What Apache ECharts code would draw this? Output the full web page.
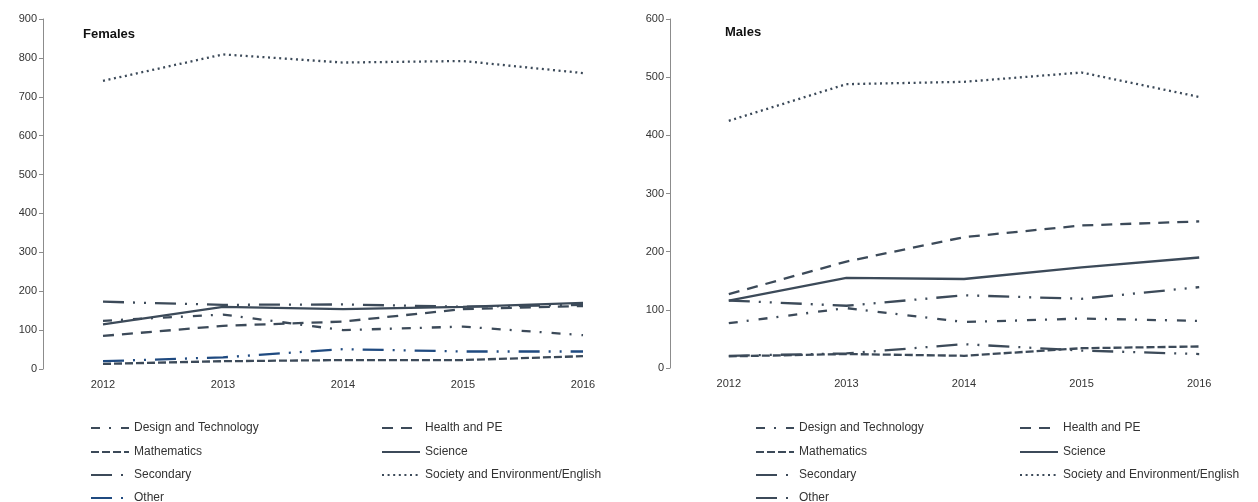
<!DOCTYPE html>
<html>
<head>
<meta charset="utf-8">
<script src="https://cdn.jsdelivr.net/npm/echarts@6/dist/echarts.min.js"></script>
<style>
  html, body { margin: 0; padding: 0; background: #fff; }
  #chart { width: 1258px; height: 502px; }
</style>
</head>
<body>
<div id="chart"></div>
<script>
// Years on the category axis
const years = ['2012', '2013', '2014', '2015', '2016'];

// Females
const fDesignTech = [124, 140, 100, 109, 87];
const fHealthPE   = [85, 111, 122, 154, 162];
const fMaths      = [13, 20, 23, 23, 33];
const fScience    = [115, 160, 154, 160, 170];
const fSecondary  = [173, 165, 166, 160, 165];
const fSociety    = [741, 809, 788, 792, 761];
const fOther      = [20, 30, 51, 45, 45];

// Males
const mDesignTech = [77, 103, 79, 85, 81];
const mHealthPE   = [127, 183, 225, 245, 252];
const mMaths      = [20, 24, 21, 34, 37];
const mScience    = [116, 155, 153, 173, 190];
const mSecondary  = [116, 107, 125, 119, 139];
const mSociety    = [425, 488, 492, 508, 466];
const mOther      = [21, 25, 41, 30, 24];

const SLATE = '#3c4a59';
const BLUE = '#1f4a80';
const FONT = 'Liberation Sans, Arial, sans-serif';

// Dash patterns per subject
const styles = {
  'Design and Technology': [9, 9, 2, 10],
  'Health and PE': [11, 8],
  'Mathematics': [8, 3],
  'Science': 'solid',
  'Secondary': [21, 9, 2, 9, 2, 9],
  'Society and Environment/English': [2, 3.6],
  'Other': [21, 9, 2, 9, 2, 9]
};

function line(name, data, idx, color) {
  return {
    name: name,
    type: 'line',
    xAxisIndex: idx,
    yAxisIndex: idx,
    data: data,
    symbol: 'none',
    showSymbol: false,
    silent: true,
    animation: false,
    color: color,
    lineStyle: { color: color, width: 2.3, type: styles[name], cap: 'butt' }
  };
}

const female = [
  ['Design and Technology', fDesignTech, SLATE],
  ['Health and PE', fHealthPE, SLATE],
  ['Mathematics', fMaths, SLATE],
  ['Science', fScience, SLATE],
  ['Secondary', fSecondary, SLATE],
  ['Society and Environment/English', fSociety, SLATE],
  ['Other', fOther, BLUE]
];
const male = [
  ['Design and Technology', mDesignTech, SLATE],
  ['Health and PE', mHealthPE, SLATE],
  ['Mathematics', mMaths, SLATE],
  ['Science', mScience, SLATE],
  ['Secondary', mSecondary, SLATE],
  ['Society and Environment/English', mSociety, SLATE],
  ['Other', mOther, SLATE]
];

const series = [];
female.forEach(s => series.push(line(s[0], s[1], 0, s[2])));
male.forEach(s => series.push(line(s[0], s[1], 1, s[2])));

function xAxis(idx) {
  return {
    type: 'category',
    gridIndex: idx,
    data: years,
    boundaryGap: true,
    axisLine: { show: false },
    axisTick: { show: false },
    axisLabel: { color: '#333', fontFamily: FONT, fontSize: 11, margin: 10 }
  };
}
function yAxis(idx, max) {
  return {
    type: 'value',
    gridIndex: idx,
    min: 0,
    max: max,
    interval: 100,
    axisLine: { show: true, lineStyle: { color: '#8c8c8c', width: 1 } },
    axisTick: { show: true, inside: false, length: 4, lineStyle: { color: '#8c8c8c' } },
    splitLine: { show: false },
    axisLabel: { color: '#333', fontFamily: FONT, fontSize: 11, margin: 6 }
  };
}

// One legend box per entry so the two-column layout stays fixed
const rowTops = [422, 446, 469, 492];
function legendItem(left, row, item) {
  return {
    orient: 'horizontal',
    left: left,
    top: rowTops[row],
    padding: 0,
    itemWidth: 38,
    itemHeight: 10,
    itemGap: 0,
    selectedMode: false,
    textStyle: { color: '#333', fontFamily: FONT, fontSize: 12 },
    itemStyle: { color: 'rgba(0,0,0,0)', borderWidth: 0, opacity: 0 },
    data: [item]
  };
}

const legends = [
  // Females
  legendItem(90, 0, 'Design and Technology'),
  legendItem(90, 1, 'Mathematics'),
  legendItem(90, 2, 'Secondary'),
  legendItem(90, 3, 'Other'),
  legendItem(381, 0, 'Health and PE'),
  legendItem(381, 1, 'Science'),
  legendItem(381, 2, 'Society and Environment/English'),
  // Males
  legendItem(755, 0, 'Design and Technology'),
  legendItem(755, 1, 'Mathematics'),
  legendItem(755, 2, 'Secondary'),
  legendItem(755, 3, { name: 'Other', lineStyle: { color: SLATE } }),
  legendItem(1019, 0, 'Health and PE'),
  legendItem(1019, 1, 'Science'),
  legendItem(1019, 2, 'Society and Environment/English')
];

const option = {
  backgroundColor: '#fff',
  animation: false,
  title: [
    { text: 'Females', left: 83, top: 28, padding: 0, textStyle: { fontFamily: FONT, fontSize: 13, fontWeight: 'bold', color: '#111' } },
    { text: 'Males', left: 725, top: 26, padding: 0, textStyle: { fontFamily: FONT, fontSize: 13, fontWeight: 'bold', color: '#111' } }
  ],
  grid: [
    { left: 43, top: 19, width: 600, height: 350 },
    { left: 670, top: 19, width: 600, height: 349 }
  ],
  xAxis: [xAxis(0), xAxis(1)],
  yAxis: [yAxis(0, 900), yAxis(1, 600)],
  legend: legends,
  series: series
};

const chart = echarts.init(document.getElementById('chart'), null, { renderer: 'canvas' });
chart.setOption(option);
</script>
</body>
</html>
